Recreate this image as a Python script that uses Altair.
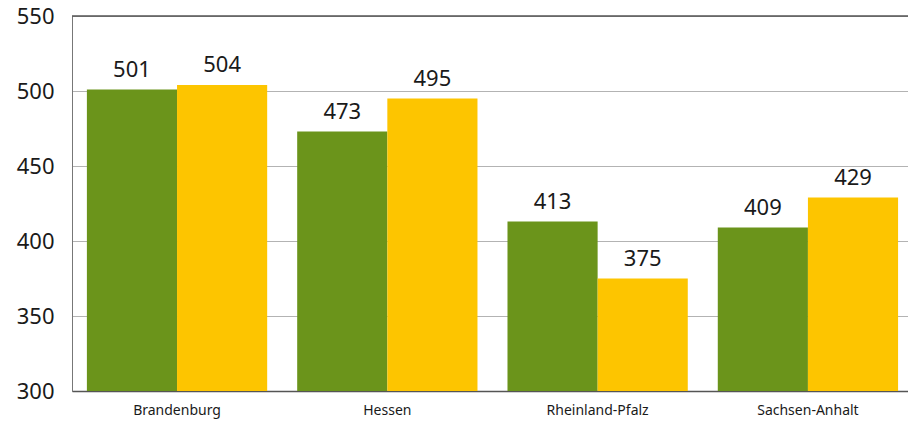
import altair as alt
import pandas as pd

categories = ["Brandenburg", "Hessen", "Rheinland-Pfalz", "Sachsen-Anhalt"]
series_names = ["Reihe 1", "Reihe 2"]
values_1 = [501, 473, 413, 409]
values_2 = [504, 495, 375, 429]
y_ticks = [300, 350, 400, 450, 500, 550]
colors = ["#6b941b", "#fdc500"]

rows = []
for c, a, b in zip(categories, values_1, values_2):
    rows.append({"Land": c, "Reihe": series_names[0], "Wert": a})
    rows.append({"Land": c, "Reihe": series_names[1], "Wert": b})
df = pd.DataFrame(rows)

FONT = "Noto Sans"

x = alt.X("Land:N", sort=categories, title=None,
          scale=alt.Scale(paddingInner=0.1427, paddingOuter=0.059, align=0.6),
          axis=alt.Axis(labelAngle=0, labelFontSize=14, labelFont=FONT, labelColor="#1a1a1a",
                        ticks=False, labelPadding=12, domainColor="#555555", domainWidth=1.5))
y = alt.Y("Wert:Q", title=None,
          scale=alt.Scale(domain=[300, 550], zero=False, nice=False),
          axis=alt.Axis(values=y_ticks, labelFontSize=22, labelFont=FONT, labelColor="#1a1a1a",
                        ticks=False, labelPadding=18, domainColor="#777777", domainWidth=1,
                        grid=True, gridColor="#666666", gridDash=[1, 1], gridWidth=1))
xoff = alt.XOffset("Reihe:N", sort=series_names, scale=alt.Scale(paddingInner=0, paddingOuter=0))
color = alt.Color("Reihe:N", sort=series_names, scale=alt.Scale(domain=series_names, range=colors), legend=None)

bars = alt.Chart(df).mark_bar().encode(x=x, xOffset=xoff, y=y, y2=alt.datum(300), color=color)
labels = alt.Chart(df).mark_text(baseline="bottom", dy=-8, fontSize=22, font=FONT, color="#1a1a1a").encode(
    x=alt.X("Land:N", sort=categories), xOffset=xoff, y="Wert:Q", text="Wert:Q")
top_rule = alt.Chart(pd.DataFrame({"v": [550]})).mark_rule(color="#555555", strokeWidth=1.5).encode(
    y="v:Q")

chart = alt.layer(bars, labels, top_rule).properties(
    width=836, height=375,
    padding={"left": 72, "top": 16, "right": 0, "bottom": 30},
    autosize=alt.AutoSizeParams(type="none"),
).configure_view(stroke=None).configure(background="white")

chart.save("out.html", embed_options={"renderer": "svg", "actions": False})
